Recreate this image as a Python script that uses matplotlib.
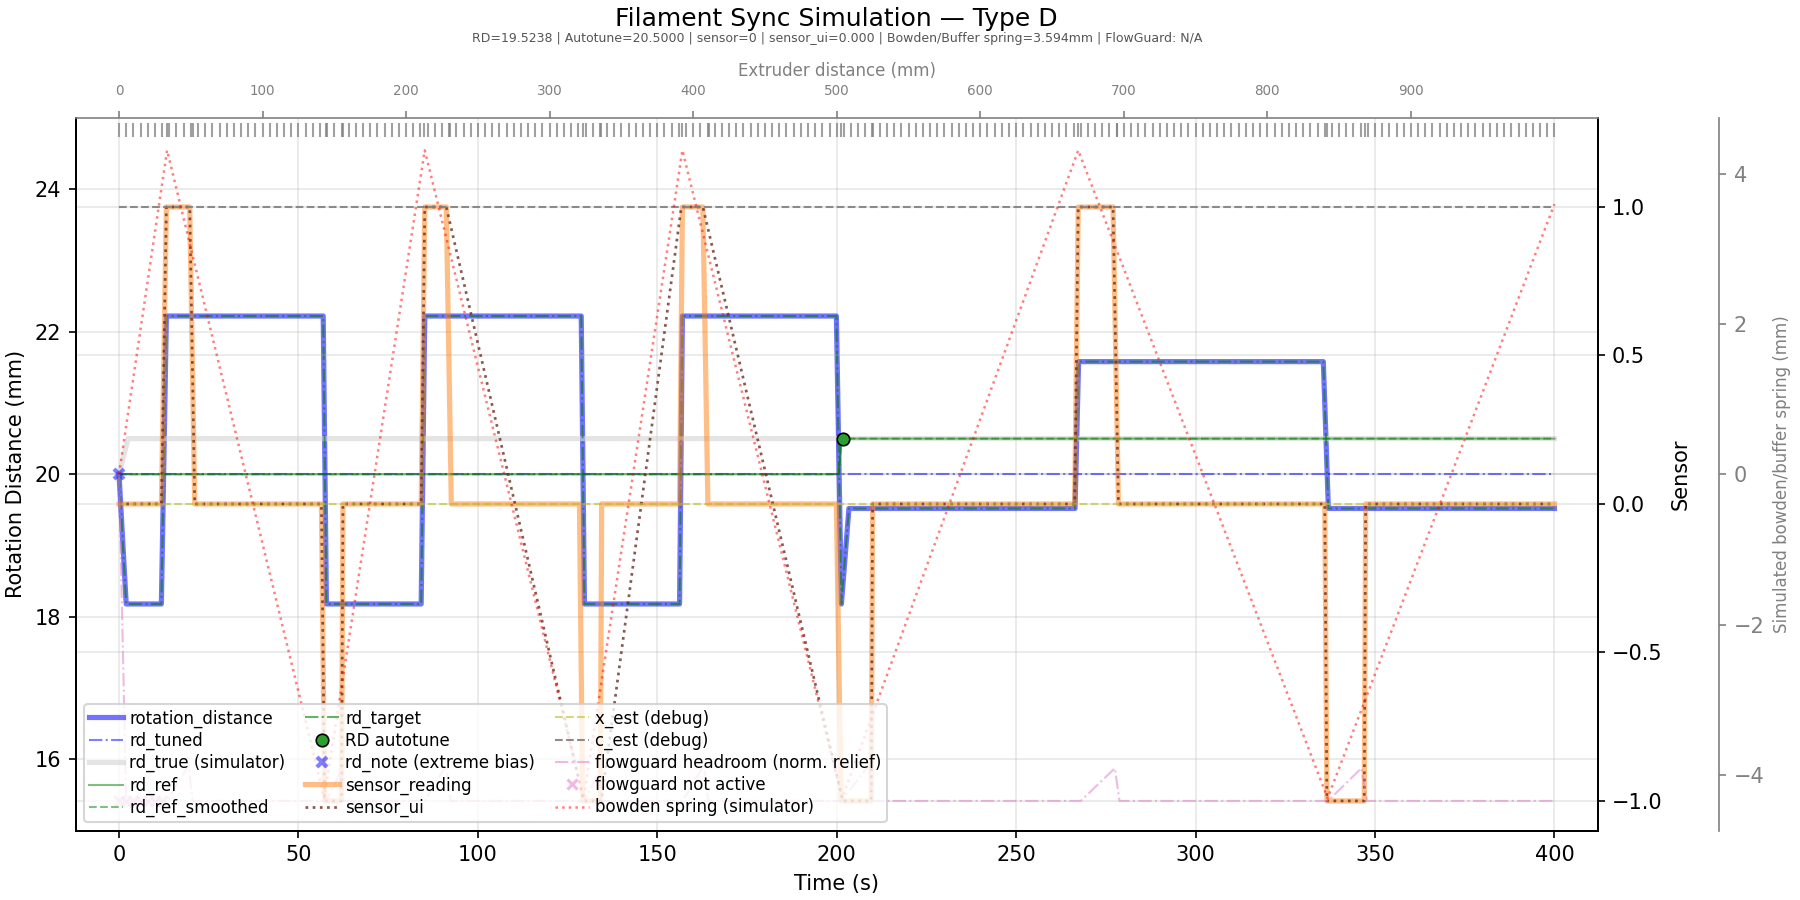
import matplotlib
matplotlib.use("Agg")
import matplotlib.pyplot as plt

# ---- values ----
MM_PER_S = 2.5  # extruder feed used for the top axis

# rotation distance (rd_target follows the same path)
rd_time = [0, 2.0, 11.8, 13.2, 56.9, 57.8, 84.2, 85.2, 128.8, 129.7, 156.2, 157.0,
           199.9, 201.3, 203.4, 266.4, 267.4, 335.6, 337.0, 400]
rd_value = [20.0, 18.18, 18.18, 22.22, 22.22, 18.18, 18.18, 22.22, 22.22, 18.18, 18.18, 22.22,
            22.22, 18.18, 19.52, 19.52, 21.58, 21.58, 19.52, 19.52]

tuned_time = [0, 400]
tuned_value = [20.0, 20.0]

true_time = [0, 2.5, 400]
true_value = [20.0, 20.5, 20.5]

ref_time = [0, 200.6, 201.3, 400]
ref_value = [20.0, 20.0, 20.5, 20.5]

autotune_time = [201.7]
autotune_value = [20.5]

note_time = [0]
note_value = [20.0]

sensor_time = [0, 11.8, 13.2, 19.7, 21.1, 56.4, 57.3, 62.0, 62.4, 84.2, 85.2, 91.2, 92.6,
               128.3, 129.2, 134.1, 134.5, 156.2, 157.0, 162.7, 164.1, 199.9, 201.2, 209.6, 210.0,
               266.3, 267.3, 277.0, 278.5, 336.0, 336.6, 347.0, 347.4, 400]
sensor_value = [0, 0, 1, 1, 0, 0, -1, -1, 0, 0, 1, 1, 0,
                0, -1, -1, 0, 0, 1, 1, 0, 0, -1, -1, 0,
                0, 1, 1, 0, 0, -1, -1, 0, 0]

ui_time = [0, 11.8, 13.2, 19.7, 21.1, 56.4, 57.3, 62.0, 62.4, 84.2, 85.2, 91.2,
           129.5, 134.4, 156.7, 162.7, 201.7, 209.6, 210.0,
           266.3, 267.3, 277.0, 278.5, 336.0, 336.6, 347.0, 347.4, 400]
ui_value = [0, 0, 1, 1, 0, 0, -1, -1, 0, 0, 1, 1,
            -1, -1, 1, 1, -1, -1, 0,
            0, 1, 1, 0, 0, -1, -1, 0, 0]

x_est_time = [0, 400]
x_est_value = [0.0, 0.0]
c_est_time = [0, 400]
c_est_value = [1.0, 1.0]

fg_time = [0, 2, 13.4, 19.4, 20.5, 57.8, 61.8, 62.4, 85.2, 91.2, 92.4, 129.7, 133.8, 134.4,
           157.0, 163.0, 164.2, 201.3, 209.0, 209.8, 268.0, 277.5, 278.8, 336.9, 346.2, 347.8, 400]
fg_value = [0.1, -1, -1, -0.88, -1, -1, -0.9, -1, -1, -0.88, -1, -1, -0.9, -1,
            -1, -0.88, -1, -1, -0.88, -1, -1, -0.89, -1, -1, -0.89, -1, -1]

fg_off_time = [0, 2, 4, 6, 8, 10, 12]
fg_off_value = [-1, -1, -1, -1, -1, -1, -1]

spring_time = [0, 13.4, 57.2, 85.2, 129.5, 157.0, 201.5, 267.3, 336.8, 400]
spring_value = [0, 4.31, -4.31, 4.31, -4.31, 4.31, -4.31, 4.31, -4.31, 3.594]

# log sample times (rug along the top)
log_time = [
    0, 2, 4, 6, 8, 10, 12, 13.4, 14, 16, 18, 20, 20.5, 22, 24, 26, 28, 30, 32, 34,
    36, 38, 40, 42, 44, 46, 48, 50, 52, 54, 56, 57.6, 58, 60, 62, 62.3, 64, 66, 68, 70,
    72, 74, 76, 78, 80, 82, 84, 85.1, 86, 88, 90, 92, 92.3, 94, 96, 98, 100, 102, 104, 106,
    108, 110, 112, 114, 116, 118, 120, 122, 124, 126, 128, 129.4, 130, 132, 134, 134.3, 136, 138, 140, 142,
    144, 146, 148, 150, 152, 154, 156, 157.0, 158, 160, 162, 164, 164.4, 166, 168, 170, 172, 174, 176, 178,
    180, 182, 184, 186, 188, 190, 192, 194, 196, 198, 200, 201.3, 202, 204, 206, 208, 209.8, 210, 212, 214,
    216, 218, 220, 222, 224, 226, 228, 230, 232, 234, 236, 238, 240, 242, 244, 246, 248, 250, 252, 254,
    256, 258, 260, 262, 264, 266, 267.2, 268, 270, 272, 274, 276, 278, 278.2, 280, 282, 284, 286, 288, 290,
    292, 294, 296, 298, 300, 302, 304, 306, 308, 310, 312, 314, 316, 318, 320, 322, 324, 326, 328, 330,
    332, 334, 336, 336.6, 338, 340, 342, 344, 346, 347.2, 348, 350, 352, 354, 356, 358, 360, 362, 364, 366,
    368, 370, 372, 374, 376, 378, 380, 382, 384, 386, 388, 390, 392, 394, 396, 398, 400,
]

extruder_ticks = [0, 100, 200, 300, 400, 500, 600, 700, 800, 900]

final_rd = 19.5238
final_autotune = 20.5
final_sensor = 0
final_sensor_ui = 0.0
final_spring = 3.594

title = "Filament Sync Simulation \u2014 Type D"
subtitle = (f"RD={final_rd:.4f} | Autotune={final_autotune:.4f} | sensor={final_sensor} | "
            f"sensor_ui={final_sensor_ui:.3f} | Bowden/Buffer spring={final_spring:.3f}mm | FlowGuard: N/A")


def main():
    fig, ax = plt.subplots(figsize=(12, 6), dpi=150)
    fig.subplots_adjust(left=0.0422, right=0.8875, bottom=0.0771, top=0.869)

    ax2 = ax.twinx()
    ax3 = ax.twinx()
    ax3.spines["right"].set_position(("axes", 1.08))
    axt = ax.twiny()

    # rotation distance axis
    h_rd, = ax.plot(rd_time, rd_value, color="blue", alpha=0.55, lw=2.5, label="rotation_distance")
    h_tuned, = ax.plot(tuned_time, tuned_value, color="blue", alpha=0.5, lw=1.0, ls="-.", label="rd_tuned")
    h_true, = ax.plot(true_time, true_value, color="lightgray", alpha=0.6, lw=2.5, label="rd_true (simulator)")
    h_ref, = ax.plot(ref_time, ref_value, color="green", alpha=0.5, lw=1.0, label="rd_ref")
    h_refs, = ax.plot(ref_time, ref_value, color="green", alpha=0.5, lw=1.0, ls="--", label="rd_ref_smoothed")
    h_target, = ax.plot(rd_time, rd_value, color="green", alpha=0.6, lw=1.0, ls="-.", label="rd_target")
    h_auto, = ax.plot(autotune_time, autotune_value, "o", color="tab:green", mec="black", mew=0.8, ms=6,
                      ls="none", label="RD autotune", zorder=5)
    h_note, = ax.plot(note_time, note_value, "x", color="blue", alpha=0.5, ms=5, mew=2, ls="none",
                      label="rd_note (extreme bias)")
    ax.plot(log_time, [24.83] * len(log_time), "|", color="gray", alpha=0.75, ms=6.5, mew=1, ls="none")
    ax.axhline(20.0, color="gray", alpha=0.2, lw=1.0, zorder=0)

    # sensor axis
    h_sens, = ax2.plot(sensor_time, sensor_value, color="tab:orange", alpha=0.5, lw=2.5, label="sensor_reading")
    h_ui, = ax2.plot(ui_time, ui_value, color="#6b2f22", alpha=0.8, lw=1.3, ls=":", label="sensor_ui")
    h_x, = ax2.plot(x_est_time, x_est_value, color="tab:olive", alpha=0.6, lw=1.0, ls="--", label="x_est (debug)")
    h_c, = ax2.plot(c_est_time, c_est_value, color="gray", alpha=0.9, lw=1.0, ls="--", label="c_est (debug)")
    h_fg, = ax2.plot(fg_time, fg_value, color="tab:pink", alpha=0.5, lw=1.0, ls="-.",
                     label="flowguard headroom (norm. relief)")
    h_fgoff, = ax2.plot(fg_off_time, fg_off_value, "x", color="tab:pink", alpha=0.5, ms=5, mew=1.5,
                        ls="none", label="flowguard not active")

    # bowden spring axis
    h_spring, = ax3.plot(spring_time, spring_value, color="red", alpha=0.5, lw=1.2, ls=":",
                         label="bowden spring (simulator)")

    ax.set_xlim(-12, 412)
    ax.set_ylim(15, 25)
    ax.set_yticks([16, 18, 20, 22, 24])
    ax.set_xlabel("Time (s)")
    ax.set_ylabel("Rotation Distance (mm)")
    ax.grid(True, alpha=0.3)

    ax2.set_ylim(-1.1, 1.3)
    ax2.set_yticks([-1.0, -0.5, 0.0, 0.5, 1.0])
    ax2.set_ylabel("Sensor")
    ax2.grid(True, axis="y", alpha=0.3)

    lim = 1.1 * max(abs(v) for v in spring_value)
    ax3.set_ylim(-lim, lim)
    ax3.set_yticks([-4, -2, 0, 2, 4])
    ax3.set_ylabel("Simulated bowden/buffer spring (mm)", fontsize=8, color="gray")
    ax3.tick_params(axis="y", colors="gray")
    ax3.spines["right"].set_color("gray")

    axt.set_xlim(ax.get_xlim()[0] * MM_PER_S, ax.get_xlim()[1] * MM_PER_S)
    axt.set_xticks(extruder_ticks)
    axt.tick_params(axis="x", colors="gray", labelsize=6.5, pad=6)
    axt.set_xlabel("Extruder distance (mm)", fontsize=8, color="gray")
    axt.spines["top"].set_color("gray")

    for a in (ax, ax2, ax3):
        a.spines["top"].set_visible(False)
    for side in ("left", "bottom", "top"):
        ax3.spines[side].set_visible(False)

    handles = [h_rd, h_tuned, h_true, h_ref, h_refs,
               h_target, h_auto, h_note, h_sens, h_ui,
               h_x, h_c, h_fg, h_fgoff, h_spring]
    ax3.legend(handles=handles, labels=[h.get_label() for h in handles],
               loc="lower left", ncol=3, fontsize=8, labelspacing=0.25, borderpad=0.3,
               handletextpad=0.4, columnspacing=1.2)

    xc = (0.0422 + 0.8875) / 2
    fig.text(xc, 0.979, title, ha="center", va="center", fontsize=12)
    fig.text(xc, 0.957, subtitle, ha="center", va="center", fontsize=6, color="#555555")

    fig.savefig("out.png", dpi=150)


if __name__ == "__main__":
    main()
